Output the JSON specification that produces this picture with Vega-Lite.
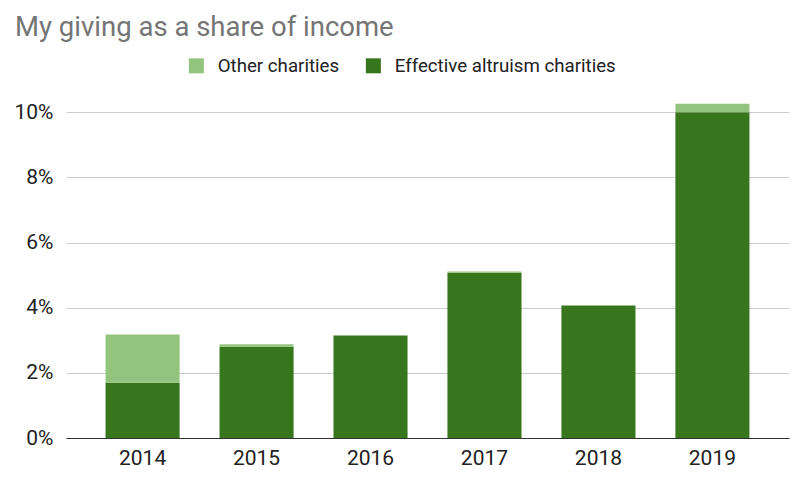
{
  "$schema": "https://vega.github.io/schema/vega-lite/v6.json",
  "autosize": "none",
  "width": 723,
  "height": 342,
  "padding": {"left": 66, "top": 96, "right": 11, "bottom": 44},
  "background": "white",
  "config": {
    "font": "Roboto",
    "view": {"stroke": null}
  },
  "title": {
    "text": "My giving as a share of income",
    "anchor": "start",
    "frame": "group",
    "dx": -51,
    "fontSize": 27.5,
    "fontWeight": "normal",
    "color": "#757575",
    "offset": 15
  },
  "data": {
    "values": [
      {"year": "2014", "type": "Effective altruism charities", "value": 1.70},
      {"year": "2014", "type": "Other charities", "value": 1.48},
      {"year": "2015", "type": "Effective altruism charities", "value": 2.80},
      {"year": "2015", "type": "Other charities", "value": 0.08},
      {"year": "2016", "type": "Effective altruism charities", "value": 3.15},
      {"year": "2016", "type": "Other charities", "value": 0},
      {"year": "2017", "type": "Effective altruism charities", "value": 5.07},
      {"year": "2017", "type": "Other charities", "value": 0.04},
      {"year": "2018", "type": "Effective altruism charities", "value": 4.07},
      {"year": "2018", "type": "Other charities", "value": 0},
      {"year": "2019", "type": "Effective altruism charities", "value": 10.0},
      {"year": "2019", "type": "Other charities", "value": 0.26}
    ]
  },
  "mark": {"type": "bar"},
  "encoding": {
    "x": {
      "field": "year",
      "type": "ordinal",
      "scale": {"paddingInner": 0.35, "paddingOuter": 0.347},
      "axis": {
        "title": null,
        "labelAngle": 0,
        "labelFontSize": 21,
        "labelColor": "#222222",
        "labelPadding": 9,
        "ticks": false,
        "domainColor": "#333333",
        "domainWidth": 1.2
      }
    },
    "y": {
      "field": "value",
      "type": "quantitative",
      "stack": "zero",
      "scale": {"domain": [0, 10.5], "nice": false},
      "axis": {
        "title": null,
        "values": [0, 2, 4, 6, 8, 10],
        "labelExpr": "datum.value + '%'",
        "labelFontSize": 21,
        "labelColor": "#222222",
        "labelPadding": 13,
        "ticks": false,
        "domain": false,
        "gridColor": "#cccccc"
      }
    },
    "color": {
      "field": "type",
      "type": "nominal",
      "scale": {
        "domain": ["Other charities", "Effective altruism charities"],
        "range": ["#93c47d", "#38761d"]
      },
      "legend": {
        "title": null,
        "orient": "none",
        "direction": "horizontal",
        "legendX": 121,
        "legendY": -40,
        "symbolType": "square",
        "symbolSize": 225,
        "symbolStrokeWidth": 0,
        "labelFontSize": 18.7,
        "labelLimit": 400,
        "labelColor": "#222222",
        "labelOffset": 12,
        "columnPadding": 24
      }
    },
    "order": {"field": "type", "sort": "ascending"}
  }
}
